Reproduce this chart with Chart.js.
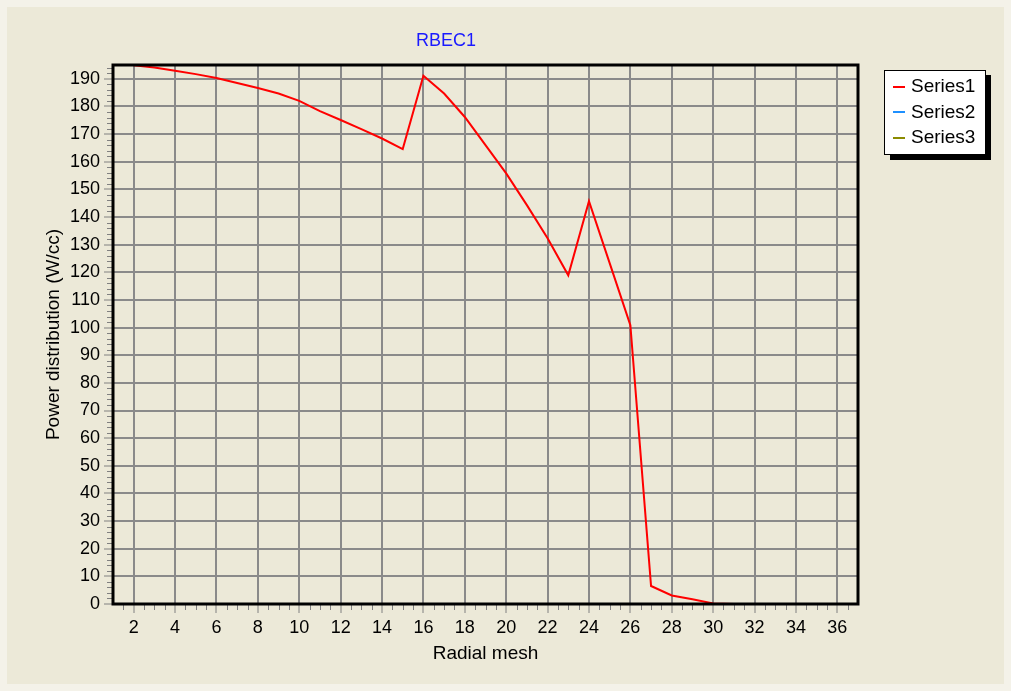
<!DOCTYPE html>
<html>
<head>
<meta charset="utf-8">
<script src="https://cdn.jsdelivr.net/npm/chart.js@4.4.0/dist/chart.umd.min.js"></script>
<style>
html, body { margin: 0; padding: 0; background: #f4f2e9; }
</style>
</head>
<body>
<canvas id="rbecChart" width="1011" height="691"></canvas>
<script>
// radial mesh index vs power (W/cc)
var meshPoints = [2, 3, 4, 5, 6, 7, 8, 9, 10, 11, 12, 13, 14, 15, 16, 17, 18, 19, 20,
    21, 22, 23, 24, 25, 26, 27, 28, 29, 30, 31, 32, 33, 34, 35, 36, 37]
var series1 = [194.9, 194.1, 192.9, 191.7, 190.3, 188.5, 186.7, 184.7, 182.0, 178.3,
    175.1, 171.8, 168.4, 164.6, 191.1, 184.7, 176.2, 166.0, 155.8, 144.3, 132.3,
    118.9, 145.7, 123.3, 100.9, 6.5, 3.1, 1.7, 0.2, 0, 0, 0, 0, 0, 0, 0]
var series2 = []
var series3 = []
var seriesNames = ['Series1', 'Series2', 'Series3']
var seriesColors = ['#ff0000', '#1e90ff', '#8b8b00']
var xTicks = [2, 4, 6, 8, 10, 12, 14, 16, 18, 20, 22, 24, 26, 28, 30, 32, 34, 36]
var yTicks = [0, 10, 20, 30, 40, 50, 60, 70, 80, 90, 100, 110, 120, 130, 140, 150, 160, 170, 180, 190]

var fontFamily = '"Liberation Sans", Arial, sans-serif'

function toPoints(vals) {
    var pts = []
    for (let i in vals) {
        pts.push({x: meshPoints[i], y: vals[i]})
    }
    return pts
}

var panelPlugin = {
    id: 'panel',
    beforeDraw: function(chart) {
        var ctx = chart.ctx
        ctx.save()
        ctx.fillStyle = '#f4f2e9'
        ctx.fillRect(0, 0, chart.width, chart.height)
        ctx.fillStyle = '#ece9d8'
        ctx.fillRect(7, 7, chart.width - 14, chart.height - 14)
        ctx.restore()
    },
    afterDraw: function(chart) {
        var ctx = chart.ctx
        var xs = chart.scales.x
        var ys = chart.scales.y
        var a = chart.chartArea
        ctx.save()
        // minor ticks
        ctx.strokeStyle = '#808080'
        ctx.lineWidth = 1
        ctx.beginPath()
        for (var v = 1.5; v < 37; v += 0.5) {
            if (v % 2 === 0) continue
            var px = Math.round(xs.getPixelForValue(v)) + 0.5
            ctx.moveTo(px, a.bottom)
            ctx.lineTo(px, a.bottom + 6)
        }
        for (var w = 2; w < 195; w += 2) {
            if (w % 10 === 0) continue
            var py = Math.round(ys.getPixelForValue(w)) + 0.5
            ctx.moveTo(a.left - 6, py)
            ctx.lineTo(a.left, py)
        }
        ctx.stroke()
        // frame
        ctx.strokeStyle = '#000'
        ctx.lineWidth = 3
        ctx.strokeRect(a.left, a.top, a.right - a.left, a.bottom - a.top)
        // title
        ctx.fillStyle = '#1a1aff'
        ctx.font = '18px ' + fontFamily
        ctx.textAlign = 'center'
        ctx.textBaseline = 'middle'
        ctx.fillText('RBEC1', 446, 41)
        // legend with shadow
        ctx.fillStyle = '#000'
        ctx.fillRect(890, 75, 101, 85)
        ctx.fillStyle = '#fff'
        ctx.fillRect(884, 70, 102, 85)
        ctx.strokeStyle = '#000'
        ctx.lineWidth = 1
        ctx.strokeRect(884.5, 70.5, 101, 84)
        ctx.textAlign = 'left'
        ctx.font = '19px ' + fontFamily
        for (var i = 0; i < seriesNames.length; i++) {
            var ry = 87 + i * 25.3
            ctx.strokeStyle = seriesColors[i]
            ctx.lineWidth = 2
            ctx.beginPath()
            ctx.moveTo(893, Math.round(ry))
            ctx.lineTo(905, Math.round(ry))
            ctx.stroke()
            ctx.fillStyle = '#000'
            ctx.fillText(seriesNames[i], 911, ry)
        }
        ctx.restore()
    }
}

const rbecData = {
    datasets: [
        {label: seriesNames[0], data: toPoints(series1), borderColor: seriesColors[0], borderWidth: 2, pointRadius: 0, tension: 0},
        {label: seriesNames[1], data: toPoints(series2), borderColor: seriesColors[1], borderWidth: 2, pointRadius: 0},
        {label: seriesNames[2], data: toPoints(series3), borderColor: seriesColors[2], borderWidth: 2, pointRadius: 0}
    ]
}

const rbecConfig = {
    type: 'line',
    data: rbecData,
    options: {
        responsive: false,
        animation: false,
        layout: {padding: {left: 0, top: 65, right: 153, bottom: 0}},
        plugins: {
            legend: {display: false},
            title: {display: false},
            tooltip: {enabled: false}
        },
        scales: {
            x: {
                type: 'linear',
                min: 1,
                max: 37,
                afterBuildTicks: function(scale) {
                    scale.ticks = xTicks.map(function(v) { return {value: v} })
                },
                afterFit: function(scale) { scale.height = 87 },
                grid: {color: '#8a8a8a', lineWidth: 2, tickLength: 9, tickColor: '#808080', tickWidth: 1},
                border: {display: false},
                ticks: {font: {family: fontFamily, size: 18}, color: '#000', padding: 4, maxRotation: 0, autoSkip: false},
                title: {display: true, text: 'Radial mesh', color: '#000', font: {family: fontFamily, size: 19}, padding: {top: 0, bottom: 26}}
            },
            y: {
                type: 'linear',
                min: 0,
                max: 195,
                afterBuildTicks: function(scale) {
                    scale.ticks = yTicks.map(function(v) { return {value: v} })
                },
                afterFit: function(scale) { scale.width = 113 },
                grid: {color: '#8a8a8a', lineWidth: 2, tickLength: 9, tickColor: '#808080', tickWidth: 1},
                border: {display: false},
                ticks: {font: {family: fontFamily, size: 18}, color: '#000', padding: 4, autoSkip: false},
                title: {display: true, text: 'Power distribution (W/cc)', color: '#000', font: {family: fontFamily, size: 19}, padding: {top: 42, bottom: 0}}
            }
        }
    },
    plugins: [panelPlugin]
}

const rbecChart = new Chart(document.getElementById('rbecChart'), rbecConfig)
</script>
</body>
</html>
